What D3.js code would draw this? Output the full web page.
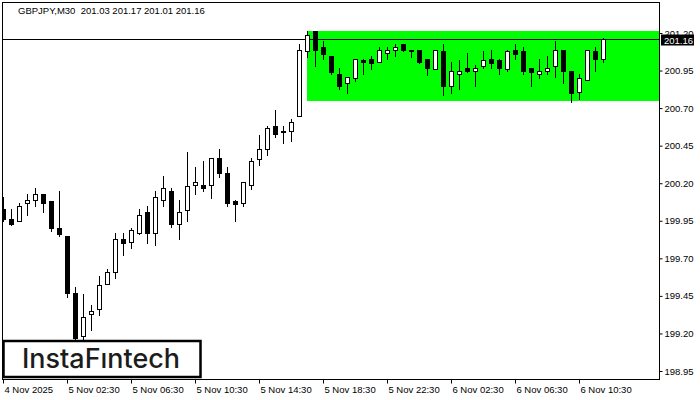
<!DOCTYPE html>
<html>
<head>
<meta charset="utf-8">
<script src="https://cdn.jsdelivr.net/npm/d3@7"></script>
<style>
  html, body { margin: 0; padding: 0; background: #fff; }
  svg { display: block; }
  .axis text { font-family: "Liberation Sans", Arial, sans-serif; font-size: 9.5px; fill: #000; }
  .axis line { stroke: #000; }
</style>
</head>
<body>
<div id="chart"></div>
<script>
/* ── Data (GBPJPY M30) ───────────────────────────────────────────── */

const symbol = 'GBPJPY,M30';
const lastQuote = [201.03, 201.17, 201.01, 201.16];   // O H L C of the last bar

const opens = [
  200.03, 199.96, 199.95, 200.07, 200.09, 200.13, 200.08, 199.90, 199.85, 199.47,
  199.18, 199.33, 199.36, 199.53, 199.61, 199.83, 199.81, 199.87, 200.01, 199.87,
  200.09, 200.15, 199.93, 200.02, 200.19, 200.19, 200.19, 200.37, 200.27, 200.08,
  200.07, 200.19, 200.36, 200.43, 200.58, 200.55, 200.55, 200.65, 201.08, 201.21,
  201.11, 201.05, 200.93, 200.87, 200.90, 201.02, 201.03, 201.01, 201.07, 201.09,
  201.13, 201.09, 201.09, 201.03, 200.96, 201.08, 200.85, 200.93, 200.97, 200.95,
  200.98, 201.03, 201.02, 200.96, 201.09, 201.08, 200.97, 200.93, 200.95, 200.98,
  201.09, 200.95, 200.81, 200.89, 201.08, 201.03
];
const highs = [
  200.11, 200.03, 200.07, 200.13, 200.17, 200.13, 200.08, 200.15, 199.85, 199.51,
  199.46, 199.39, 199.58, 199.63, 199.87, 199.87, 199.90, 200.03, 200.05, 200.15,
  200.25, 200.17, 200.09, 200.41, 200.31, 200.35, 200.37, 200.43, 200.31, 200.09,
  200.21, 200.37, 200.52, 200.58, 200.69, 200.58, 200.63, 201.13, 201.21, 201.21,
  201.15, 201.05, 200.97, 200.91, 201.03, 201.03, 201.05, 201.11, 201.11, 201.13,
  201.13, 201.09, 201.09, 201.03, 201.09, 201.13, 201.01, 201.02, 201.07, 200.99,
  201.08, 201.09, 201.03, 201.09, 201.13, 201.11, 200.97, 201.03, 201.05, 201.15,
  201.09, 200.95, 200.93, 201.09, 201.11, 201.17
];
const lows = [
  199.95, 199.92, 199.95, 199.99, 200.05, 200.01, 199.88, 199.85, 199.44, 199.15,
  199.15, 199.22, 199.32, 199.53, 199.57, 199.72, 199.77, 199.86, 199.80, 199.79,
  200.05, 199.91, 199.83, 199.95, 200.13, 200.15, 200.10, 200.24, 200.05, 199.95,
  200.05, 200.16, 200.32, 200.39, 200.51, 200.47, 200.48, 200.65, 201.04, 200.98,
  201.03, 200.93, 200.83, 200.80, 200.88, 200.93, 200.96, 201.01, 201.03, 201.05,
  201.08, 201.04, 201.00, 200.92, 200.96, 200.79, 200.80, 200.83, 200.94, 200.85,
  200.97, 200.97, 200.93, 200.95, 201.03, 200.93, 200.85, 200.90, 200.93, 200.91,
  200.87, 200.74, 200.76, 200.89, 200.95, 201.01
];
const closes = [
  199.96, 199.93, 200.05, 200.09, 200.13, 200.07, 199.90, 199.86, 199.47, 199.17,
  199.31, 199.35, 199.52, 199.61, 199.83, 199.80, 199.89, 199.99, 199.87, 200.11,
  200.17, 199.93, 200.01, 200.18, 200.21, 200.17, 200.37, 200.27, 200.07, 200.06,
  200.21, 200.35, 200.43, 200.57, 200.53, 200.54, 200.61, 201.09, 201.19, 201.09,
  201.06, 200.94, 200.85, 200.91, 201.03, 201.01, 201.00, 201.09, 201.09, 201.11,
  201.09, 201.08, 201.01, 200.97, 201.09, 200.85, 200.95, 200.95, 200.95, 200.97,
  201.02, 201.00, 200.97, 201.08, 201.06, 200.95, 200.94, 200.95, 200.97, 201.09,
  200.95, 200.80, 200.90, 201.09, 201.03, 201.16
];

// flat-range rectangle: starts at bar 38, runs to the right edge
const rangeStartBar = 38;
const rangeTop = 201.21;
const rangeBottom = 200.75;

const priceTicks = [198.95, 199.20, 199.45, 199.70, 199.95, 200.20, 200.45, 200.70, 200.95, 201.20];
const timeTickBars = [0, 8, 16, 24, 32, 40, 48, 56, 64, 72];
const timeTickLabels = [
  '4 Nov 2025', '5 Nov 02:30', '5 Nov 06:30', '5 Nov 10:30', '5 Nov 14:30',
  '5 Nov 18:30', '5 Nov 22:30', '6 Nov 02:30', '6 Nov 06:30', '6 Nov 10:30'
];

/* ── Layout ──────────────────────────────────────────────────────── */

const W = 700, H = 400;
const plot = { left: 2, top: 2, right: 659, bottom: 379 };

const svg = d3.select('#chart').append('svg')
  .attr('width', W).attr('height', H)
  .attr('viewBox', '0 0 ' + W + ' ' + H);

svg.append('rect').attr('width', W).attr('height', H).attr('fill', '#fff');

// bar index -> pixel, 8 px per bar
const x = d3.scaleLinear().domain([0, 75]).range([3, 603]);
const y = d3.scaleLinear().domain([198.95, 201.20]).range([371, 33]);

svg.append('clipPath').attr('id', 'plotClip')
  .append('rect')
  .attr('x', plot.left).attr('y', plot.top)
  .attr('width', plot.right - plot.left).attr('height', plot.bottom - plot.top);

const g = svg.append('g').attr('clip-path', 'url(#plotClip)');

/* ── Range box and bid line ─────────────────────────────────────── */

g.append('rect')
  .attr('x', x(rangeStartBar))
  .attr('y', Math.round(y(rangeTop)))
  .attr('width', plot.right - x(rangeStartBar))
  .attr('height', Math.round(y(rangeBottom)) - Math.round(y(rangeTop)))
  .attr('fill', '#00ff00');

const bidY = Math.round(y(lastQuote[3])) + 0.5;
g.append('line')
  .attr('x1', plot.left).attr('x2', plot.right)
  .attr('y1', bidY).attr('y2', bidY)
  .attr('stroke', '#000').attr('stroke-width', 1);

/* ── Candles ────────────────────────────────────────────────────── */

const bars = d3.range(opens.length).map(i => ({
  i: i, o: opens[i], h: highs[i], l: lows[i], c: closes[i]
}));

const candle = g.selectAll('g.candle').data(bars).enter()
  .append('g').attr('class', 'candle')
  .attr('shape-rendering', 'crispEdges');

candle.append('line')
  .attr('x1', d => Math.round(x(d.i)) + 0.5)
  .attr('x2', d => Math.round(x(d.i)) + 0.5)
  .attr('y1', d => Math.round(y(d.h)))
  .attr('y2', d => Math.round(y(d.l)) + 1)
  .attr('stroke', '#000');

candle.append('rect')
  .attr('x', d => Math.round(x(d.i)) - 1.5)
  .attr('width', 4)
  .attr('y', d => Math.round(y(Math.max(d.o, d.c))) + 0.5)
  .attr('height', d => Math.max(1, Math.round(y(Math.min(d.o, d.c))) - Math.round(y(Math.max(d.o, d.c)))))
  .attr('fill', d => d.c >= d.o ? '#fff' : '#000')
  .attr('stroke', '#000');

/* ── Frame & axes ───────────────────────────────────────────────── */

svg.append('rect')
  .attr('x', plot.left + 0.5).attr('y', plot.top + 0.5)
  .attr('width', plot.right - plot.left).attr('height', plot.bottom - plot.top)
  .attr('fill', 'none').attr('stroke', '#000');

const yAxis = svg.append('g').attr('class', 'axis')
  .attr('transform', 'translate(' + (plot.right + 0.5) + ',0)')
  .call(d3.axisRight(y).tickValues(priceTicks).tickSize(3).tickPadding(2)
    .tickFormat(d3.format('.2f')));
yAxis.select('.domain').remove();

const xAxis = svg.append('g').attr('class', 'axis')
  .attr('transform', 'translate(0,' + (plot.bottom + 0.5) + ')')
  .call(d3.axisBottom(x).tickValues(timeTickBars).tickSize(4).tickPadding(3)
    .tickFormat((d, i) => timeTickLabels[i]));
xAxis.select('.domain').remove();
xAxis.selectAll('.tick text').attr('text-anchor', 'start').attr('dx', '0.1em');

// current price tag
const tag = svg.append('g').attr('transform', 'translate(661,' + (bidY - 5) + ')');
tag.append('rect').attr('width', 33).attr('height', 11).attr('fill', '#000');
tag.append('text')
  .attr('x', 3).attr('y', 9)
  .attr('font-family', '"Liberation Sans", Arial, sans-serif')
  .attr('font-size', '9.5px').attr('fill', '#fff')
  .text(lastQuote[3].toFixed(2));

/* ── Title & logo ───────────────────────────────────────────────── */

svg.append('text')
  .attr('x', 18).attr('y', 14)
  .attr('font-family', '"Liberation Sans", Arial, sans-serif')
  .attr('font-size', '9.5px').attr('fill', '#000')
  .attr('xml:space', 'preserve')
  .text(symbol + '  ' + lastQuote.map(v => v.toFixed(2)).join(' '));

svg.append('rect')
  .attr('x', 3.5).attr('y', 341).attr('width', 197).attr('height', 36)
  .attr('fill', '#fff').attr('stroke', '#000').attr('stroke-width', 2.5);

svg.append('text')
  .attr('x', 22).attr('y', 368)
  .attr('font-family', 'Inter, "Open Sans", sans-serif')
  .attr('font-size', '27px').attr('font-weight', 500).attr('fill', '#1c1c1c')
  .attr('textLength', 158).attr('lengthAdjust', 'spacingAndGlyphs')
  .text('InstaFıntech');
</script>
</body>
</html>
